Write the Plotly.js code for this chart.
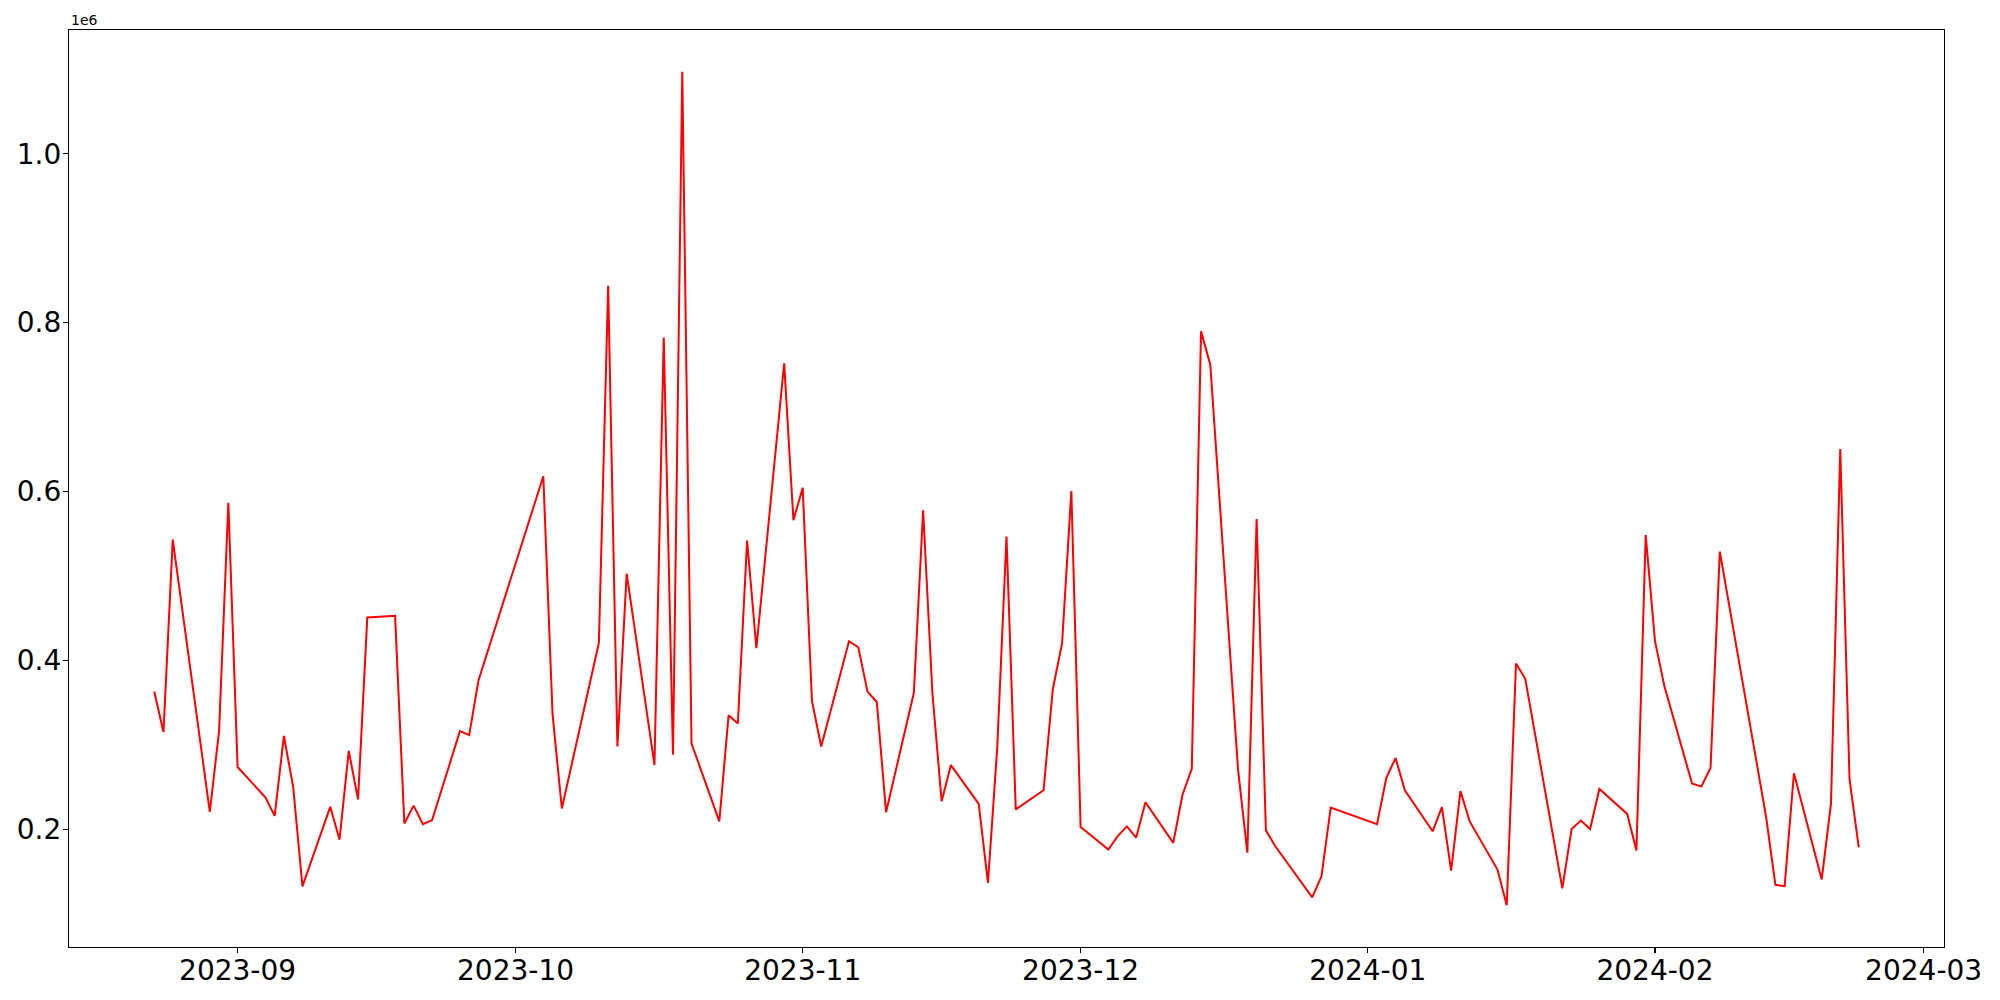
<!DOCTYPE html>
<html>
<head>
<meta charset="utf-8">
<script src="https://cdn.plot.ly/plotly-3.0.1.min.js"></script>
<style>
  html, body { margin: 0; padding: 0; background: #ffffff; }
  #chart { width: 2000px; height: 1000px; }
</style>
</head>
<body>
<div id="chart"></div>
<script>
const dates = [
  "2023-08-23","2023-08-24","2023-08-25","2023-08-29","2023-08-30","2023-08-31","2023-09-01",
  "2023-09-04","2023-09-05","2023-09-06","2023-09-07","2023-09-08",
  "2023-09-11","2023-09-12","2023-09-13","2023-09-14","2023-09-15",
  "2023-09-18","2023-09-19","2023-09-20","2023-09-21","2023-09-22",
  "2023-09-25","2023-09-26","2023-09-27",
  "2023-10-04","2023-10-05","2023-10-06",
  "2023-10-10","2023-10-11","2023-10-12","2023-10-13",
  "2023-10-16","2023-10-17","2023-10-18","2023-10-19","2023-10-20",
  "2023-10-23","2023-10-24","2023-10-25","2023-10-26","2023-10-27",
  "2023-10-30","2023-10-31","2023-11-01","2023-11-02","2023-11-03",
  "2023-11-06","2023-11-07","2023-11-08","2023-11-09","2023-11-10",
  "2023-11-13","2023-11-14","2023-11-15","2023-11-16","2023-11-17",
  "2023-11-20","2023-11-21","2023-11-22","2023-11-23","2023-11-24",
  "2023-11-27","2023-11-28","2023-11-29","2023-11-30","2023-12-01",
  "2023-12-04","2023-12-05","2023-12-06","2023-12-07","2023-12-08",
  "2023-12-11","2023-12-12","2023-12-13","2023-12-14","2023-12-15",
  "2023-12-18","2023-12-19","2023-12-20","2023-12-21","2023-12-22",
  "2023-12-26","2023-12-27","2023-12-28",
  "2024-01-02","2024-01-03","2024-01-04","2024-01-05",
  "2024-01-08","2024-01-09","2024-01-10","2024-01-11","2024-01-12",
  "2024-01-15","2024-01-16","2024-01-17","2024-01-18",
  "2024-01-22","2024-01-23","2024-01-24","2024-01-25","2024-01-26",
  "2024-01-29","2024-01-30","2024-01-31","2024-02-01","2024-02-02",
  "2024-02-05","2024-02-06","2024-02-07","2024-02-08",
  "2024-02-13","2024-02-14","2024-02-15","2024-02-16",
  "2024-02-19","2024-02-20","2024-02-21","2024-02-22","2024-02-23"
];

const values = [
  363000, 315000, 543000, 220500, 316000, 586500, 273500,
  237600, 215600, 310300, 249900, 132100,
  226400, 187600, 292600, 235200, 450600,
  452600, 206700, 227800, 205800, 210700,
  316000, 311300, 376000,
  618000, 335800, 224400,
  420700, 843600, 298000, 502600,
  275900, 782300, 288200, 1097200, 301400,
  209200, 334800, 325000, 541800, 414300,
  751800, 566000, 604200, 351800, 297900,
  422500, 415400, 362800, 350500, 220000,
  361500, 577700, 361500, 233000, 275800,
  229800, 136300, 296600, 546500, 223300,
  246000, 366000, 420000, 600400, 202500,
  175800, 191600, 203200, 190000, 231800,
  183700, 240700, 271400, 789700, 750000,
  269800, 172100, 567300, 198500, 180000,
  119200, 144100, 225400,
  205900, 260800, 284100, 246000,
  197400, 226000, 150900, 245000, 209100,
  152000, 109700, 396100, 378100,
  129800, 200100, 210100, 200100, 247600,
  218000, 174700, 548200, 423000, 370200,
  254000, 250300, 272400, 528700,
  214300, 134000, 132400, 266100,
  140400, 230200, 650200, 259200, 178400
];

const xTickVals = ["2023-09-01","2023-10-01","2023-11-01","2023-12-01","2024-01-01","2024-02-01","2024-03-01"];
const xTickText = ["2023-09","2023-10","2023-11","2023-12","2024-01","2024-02","2024-03"];
const yTickVals = [200000, 400000, 600000, 800000, 1000000];
const yTickText = ["0.2","0.4","0.6","0.8","1.0"];

// matplotlib-like 5% margins computed from the data
const tms = dates.map(d => new Date(d + "T00:00:00Z").getTime());
const tmin = Math.min(...tms), tmax = Math.max(...tms);
const tpad = (tmax - tmin) * 0.05;
const toIso = ms => new Date(ms).toISOString().replace("T", " ").replace("Z", "");
const vmin = Math.min(...values), vmax = Math.max(...values);
const vpad = (vmax - vmin) * 0.05;

const font = "DejaVu Sans, sans-serif";

const trace = {
  x: dates,
  y: values,
  type: "scatter",
  mode: "lines",
  line: { color: "#ff0000", width: 2 },
  hoverinfo: "skip"
};

const layout = {
  width: 2000,
  height: 1000,
  paper_bgcolor: "#ffffff",
  plot_bgcolor: "#ffffff",
  margin: { l: 69, r: 56, t: 30, b: 53, pad: 0 },
  showlegend: false,
  font: { family: font, color: "#000000" },
  xaxis: {
    type: "date",
    range: [toIso(tmin - tpad), toIso(tmax + tpad)],
    tickmode: "array",
    tickvals: xTickVals,
    ticktext: xTickText,
    ticks: "outside",
    ticklen: 5,
    tickwidth: 1.1,
    tickcolor: "#000000",
    ticklabelstandoff: -7,
    tickfont: { family: font, size: 28, color: "#000000" },
    showgrid: false,
    zeroline: false,
    showline: true,
    linecolor: "#000000",
    linewidth: 1.1,
    mirror: true
  },
  yaxis: {
    range: [vmin - vpad, vmax + vpad],
    tickmode: "array",
    tickvals: yTickVals,
    ticktext: yTickText,
    ticks: "outside",
    ticklen: 5,
    tickwidth: 1.1,
    tickcolor: "#000000",
    ticklabelstandoff: -4,
    tickfont: { family: font, size: 28, color: "#000000" },
    showgrid: false,
    zeroline: false,
    showline: true,
    linecolor: "#000000",
    linewidth: 1.1,
    mirror: true
  },
  annotations: [{
    text: "1e6",
    xref: "paper", yref: "paper",
    x: 0, y: 1,
    xanchor: "left", yanchor: "bottom",
    yshift: 0,
    showarrow: false,
    font: { family: font, size: 14, color: "#000000" }
  }]
};

Plotly.newPlot("chart", [trace], layout, { displayModeBar: false, staticPlot: true });
</script>
</body>
</html>
